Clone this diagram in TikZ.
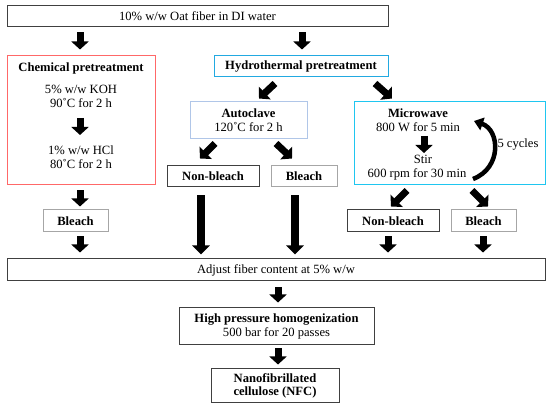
\documentclass[tikz,border=0pt]{standalone}
\usepackage{fontspec}
\setmainfont{Liberation Serif}
\usetikzlibrary{arrows.meta,calc}
\definecolor{dkgray}{HTML}{404040}
\definecolor{ltgray}{HTML}{A6A6A6}
\definecolor{chemred}{HTML}{FF6868}
\definecolor{hydroblue}{HTML}{22A9E1}
\definecolor{autoblue}{HTML}{B0C6E8}
\definecolor{mwcyan}{HTML}{1FC6F0}
\begin{document}
\begin{tikzpicture}[x=1pt,y=-1pt,
  every node/.style={font=\fontsize{12.6}{14}\selectfont},
  bfnode/.style={font=\fontsize{12.6}{14}\selectfont\bfseries},
  box/.style={draw=dkgray,line width=1pt,rectangle,inner sep=0pt,align=center},
  txt/.style={inner sep=0pt,anchor=base},
  blk/.style={line width=7pt,black,-{Triangle[width=17pt,length=8pt]}},
  blklong/.style={line width=8pt,black,-{Triangle[width=17pt,length=9pt]}}]
\useasboundingbox (0,0) rectangle (550,411);
\fill[white] (0,0) rectangle (550,411);
% boxes
\node[box,minimum width=381,minimum height=21] (top) at (197.5,16.5) {10\% w/w Oat fiber in DI water};
\node[box,draw=chemred,minimum width=148,minimum height=129] (chem) at (81,120.5) {};
\node[txt,bfnode] (chemt) at (81,72) {Chemical pretreatment};
\node[txt] (koh1) at (81,94) {5\% w/w KOH};
\node[txt] (koh2) at (81,108) {90˚C for 2 h};
\node[txt] (hcl1) at (81,155) {1\% w/w HCl};
\node[txt] (hcl2) at (81,169) {80˚C for 2 h};
\node[box,draw=hydroblue,minimum width=174,minimum height=21,bfnode] (hydro) at (301,66.5) {Hydrothermal pretreatment};
\node[box,draw=autoblue,minimum width=117,minimum height=37] (autoclave) at (248.5,120.5) {\textbf{Autoclave}\\120˚C for 2 h};
\node[box,draw=mwcyan,minimum width=191,minimum height=83] (microwave) at (449.5,143.5) {};
\node[txt,bfnode] (mw1) at (418,118) {Microwave};
\node[txt] (mw2) at (418,132) {800 W for 5 min};
\node[txt] (stir) at (423,164) {Stir};
\node[txt] (mw3) at (417,178) {600 rpm for 30 min};
\node[txt] (cycles) at (518,148) {5 cycles};
\node[box,minimum width=92,minimum height=21,bfnode] (nb1) at (213,176.5) {Non-bleach};
\node[box,draw=ltgray,minimum width=66,minimum height=21,bfnode] (b1) at (304,176.5) {Bleach};
\node[box,draw=ltgray,minimum width=65,minimum height=22,bfnode] (bc) at (75.5,221) {Bleach};
\node[box,minimum width=92,minimum height=22,bfnode] (nb2) at (393,221) {Non-bleach};
\node[box,draw=ltgray,minimum width=65,minimum height=22,bfnode] (b2) at (483.5,221) {Bleach};
\node[box,minimum width=538,minimum height=22] (adjust) at (276,270) {Adjust fiber content at 5\% w/w};
\node[box,minimum width=195,minimum height=37] (hph) at (276.5,326.5) {\textbf{High pressure homogenization}\\500 bar for 20 passes};
\node[box,minimum width=128,minimum height=34,font=\fontsize{12.6}{13}\selectfont\bfseries] (nfc) at (275,386) {Nanofibrillated\\cellulose (NFC)};
% arrows
\draw[blk] ($(top.south-|chem.north)+(-1,5)$) -- ($(chem.north)+(-1,-6)$);
\draw[blk] ($(top.south-|hydro.north)+(1,5)$) -- ($(hydro.north)+(1,-6)$);
\draw[blk] ($(hydro.south)+(-26,6)$) -- ($(autoclave.north)+(10.5,-3)$);
\draw[blk] ($(hydro.south)+(74,6)$) -- ($(microwave.north)+(-57.5,-3)$);
\draw[blk] ($(koh2.base)+(-1,10)$) -- ($(hcl1.base)+(-1,-20)$);
\draw[blk] ($(mw2.base)+(6,4)$) -- ($(stir.base)+(1,-11)$);
\coordinate (cycA) at (473,179);
\coordinate (cycB) at (474,121);
\draw[line width=4.5pt,black,-{Triangle[width=13pt,length=9pt]}] (cycA) .. controls (502,168) and (500,130) .. (cycB);
\draw[blk] ($(autoclave.south)+(-33.5,4)$) -- ($(nb1.north)+(-13,-7)$);
\draw[blk] ($(autoclave.south)+(27.5,4)$) -- ($(b1.north)+(-12,-7)$);
\draw[blk] ($(microwave.south)+(-42.5,5)$) -- ($(nb2.north)+(-2,-3)$);
\draw[blk] ($(microwave.south)+(22.5,5)$) -- ($(b2.north)+(4.5,-3)$);
\draw[blk] ($(chem.south)+(-1,5)$) -- ($(bc.north)+(4.5,-3)$);
\draw[blk] ($(bc.south)+(4.5,4)$) -- ($(bc.south|-adjust.north)+(4.5,-6)$);
\draw[blklong] ($(nb1.south)+(-12,8)$) -- ($(nb1.south|-adjust.north)+(-12,-4)$);
\draw[blklong] ($(b1.south)+(-9,8)$) -- ($(b1.south|-adjust.north)+(-9,-4)$);
\draw[blk] ($(nb2.south)+(-5,4)$) -- ($(nb2.south|-adjust.north)+(-5,-6)$);
\draw[blk] ($(b2.south)+(-0.5,4)$) -- ($(b2.south|-adjust.north)+(-0.5,-6)$);
\draw[blk] ($(adjust.south)+(2,6)$) -- ($(hph.north)+(1.5,-5)$);
\draw[blk] ($(hph.south)+(1.5,3)$) -- ($(nfc.north)+(3,-4)$);
\end{tikzpicture}
\end{document}
